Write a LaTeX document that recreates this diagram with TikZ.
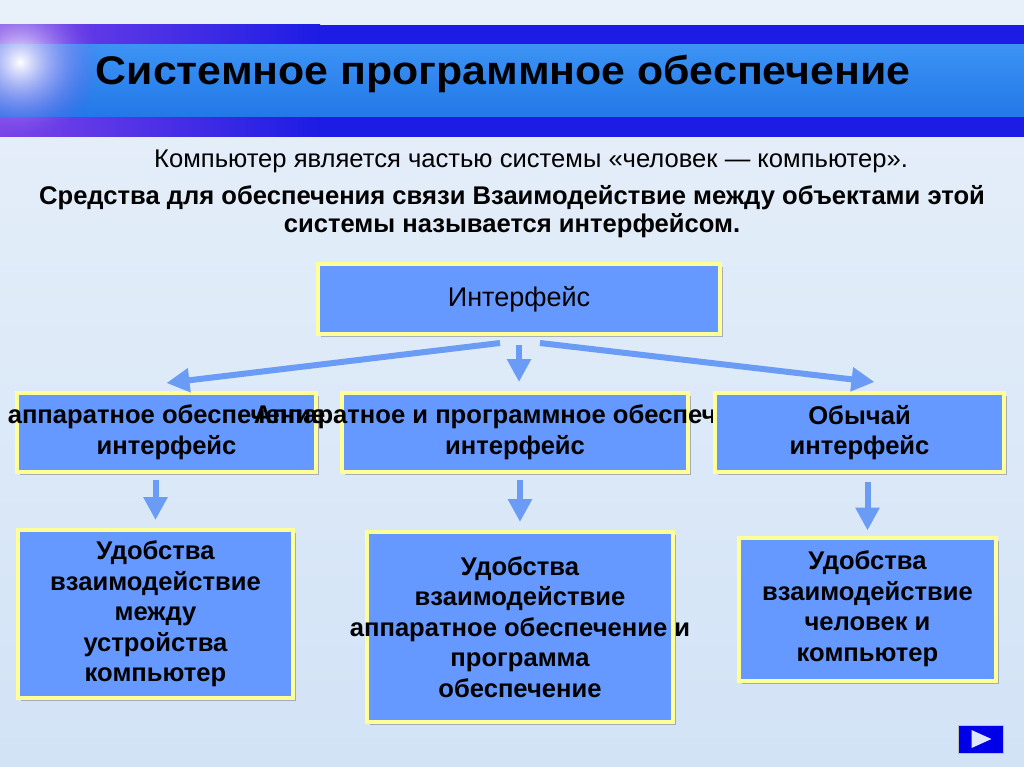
\documentclass[tikz,border=0pt]{standalone}
\usepackage{fontspec}
\setmainfont{Liberation Sans}
\newfontfamily\titlefont[FakeStretch=1.07]{Liberation Sans}
\usetikzlibrary{arrows.meta,calc,shadows,fadings}

\definecolor{bgtop}{HTML}{E8F0FA}
\definecolor{bgbot}{HTML}{D2E3F6}
\definecolor{banddark}{HTML}{1C1CE4}
\definecolor{bandviolet}{HTML}{7A44E8}
\definecolor{bandtop}{HTML}{3C93F4}
\definecolor{bandbot}{HTML}{2378E8}
\definecolor{boxfill}{HTML}{6699FF}
\definecolor{boxrim}{HTML}{FFFF99}
\definecolor{arrblue}{HTML}{6A9BF5}
\definecolor{navblue}{HTML}{0000E8}
\definecolor{navtri}{HTML}{DDE6FF}

\tikzfading[name=glowfade, inner color=transparent!0, outer color=transparent!100]

\begin{document}
\begin{tikzpicture}[
  x=1pt, y=-1pt,
  box/.style={draw=boxrim, line width=4pt, fill=boxfill, align=center, inner sep=0pt,
              font=\bfseries\fontsize{25.6}{30.5}\selectfont,
              drop shadow={shadow xshift=3pt, shadow yshift=-3pt, fill=black!55, opacity=0.5}},
  ttl/.style={anchor=base, font=\titlefont\bfseries\fontsize{40}{42}\selectfont, inner sep=0pt},
  txt/.style={anchor=base, font=\fontsize{25.6}{28}\selectfont, inner sep=0pt},
  arr/.style={-{Triangle[length=23pt,width=23pt]}, line width=6pt, draw=arrblue},
  navbtn/.style={draw=black!25, line width=0.8pt, fill=navblue,
                 minimum width=45pt, minimum height=28pt, inner sep=0pt},
]
  \useasboundingbox (0,0) rectangle (1024,767);

  % background and title band
  \shade[top color=bgtop, bottom color=bgbot] (0,0) rectangle (1024,767);
  \begin{scope}
    \clip (0,25) rectangle (1024,137);
    \fill[banddark] (0,25) rectangle (1024,137);
    \shade[left color=bandviolet, right color=banddark] (0,25) rectangle (320,137);
    \shade[top color=bandtop, bottom color=bandbot] (0,45) rectangle (1024,117);
    \shade[inner color=white, outer color=bandviolet, path fading=glowfade]
      (20,62) circle (80pt);
  \end{scope}

  \node[ttl] (title) at (503,85) {Системное программное обеспечение};

  \node[txt] (sub1) at (531,168)
    {Компьютер является частью системы «человек — компьютер».};
  \node[txt, font=\bfseries\fontsize{25.6}{28}\selectfont] (sub2) at (512,205)
    {Средства для обеспечения связи Взаимодействие между объектами этой};
  \node[txt, font=\bfseries\fontsize{25.6}{28}\selectfont] (sub3) at (512,233)
    {системы называется интерфейсом.};

  % top box
  \node[box, font=\fontsize{27}{30}\selectfont, minimum width=402pt, minimum height=70pt]
    (iface) at (519,299) {Интерфейс};

  % middle row (left to right, so later boxes cover overflowing text)
  \node[box, minimum width=299pt, minimum height=79pt] (hw) at (166.5,432.5)
    {\makebox[0pt]{аппаратное обеспечение}\\интерфейс};
  \node[box, minimum width=346pt, minimum height=79pt] (hs) at (515,432.5)
    {\makebox[0pt]{Аппаратное и программное обеспечение}\\интерфейс};
  \node[box, minimum width=289pt, minimum height=79pt] (usr) at (859.5,432.5)
    {Обычай\\интерфейс};

  % bottom row
  \node[box, minimum width=275pt, minimum height=168pt] (bl) at (155.5,614)
    {Удобства\\взаимодействие\\между\\устройства\\компьютер};
  \node[box, minimum width=306pt, minimum height=190pt] (bm) at (520,627)
    {Удобства\\взаимодействие\\\makebox[0pt]{аппаратное обеспечение и}\\программа\\обеспечение};
  \node[box, minimum width=257pt, minimum height=143pt] (br) at (867.5,609)
    {Удобства\\взаимодействие\\человек и\\компьютер};

  % arrows from the top box
  \draw[arr] ($(iface.south)+(-19pt,-7pt)$) -- ($(hw.north)+(0pt,8pt)$);
  \draw[arr] ($(iface.south)+(0pt,-9pt)$) -- ($(iface.south |- hs.north)+(0pt,9pt)$);
  \draw[arr] ($(iface.south)+(21pt,-7pt)$) -- ($(usr.north)+(15pt,9pt)$);

  % arrows down to the bottom row
  \draw[arr] ($(hw.south -| bl.north)+(0pt,-6pt)$) -- ($(bl.north)+(0pt,8pt)$);
  \draw[arr] ($(hs.south -| bm.north)+(0pt,-6pt)$) -- ($(bm.north)+(0pt,8pt)$);
  \draw[arr] ($(usr.south -| br.north)+(0pt,-8pt)$) -- ($(br.north)+(0pt,5pt)$);

  % navigation button
  \node[navbtn] (next) at (980.5,739) {};
  \fill[navtri] ($(next.center)+(-9pt,9pt)$) -- ($(next.center)+(11pt,0pt)$)
    -- ($(next.center)+(-9pt,-9pt)$) -- cycle;
\end{tikzpicture}
\end{document}
